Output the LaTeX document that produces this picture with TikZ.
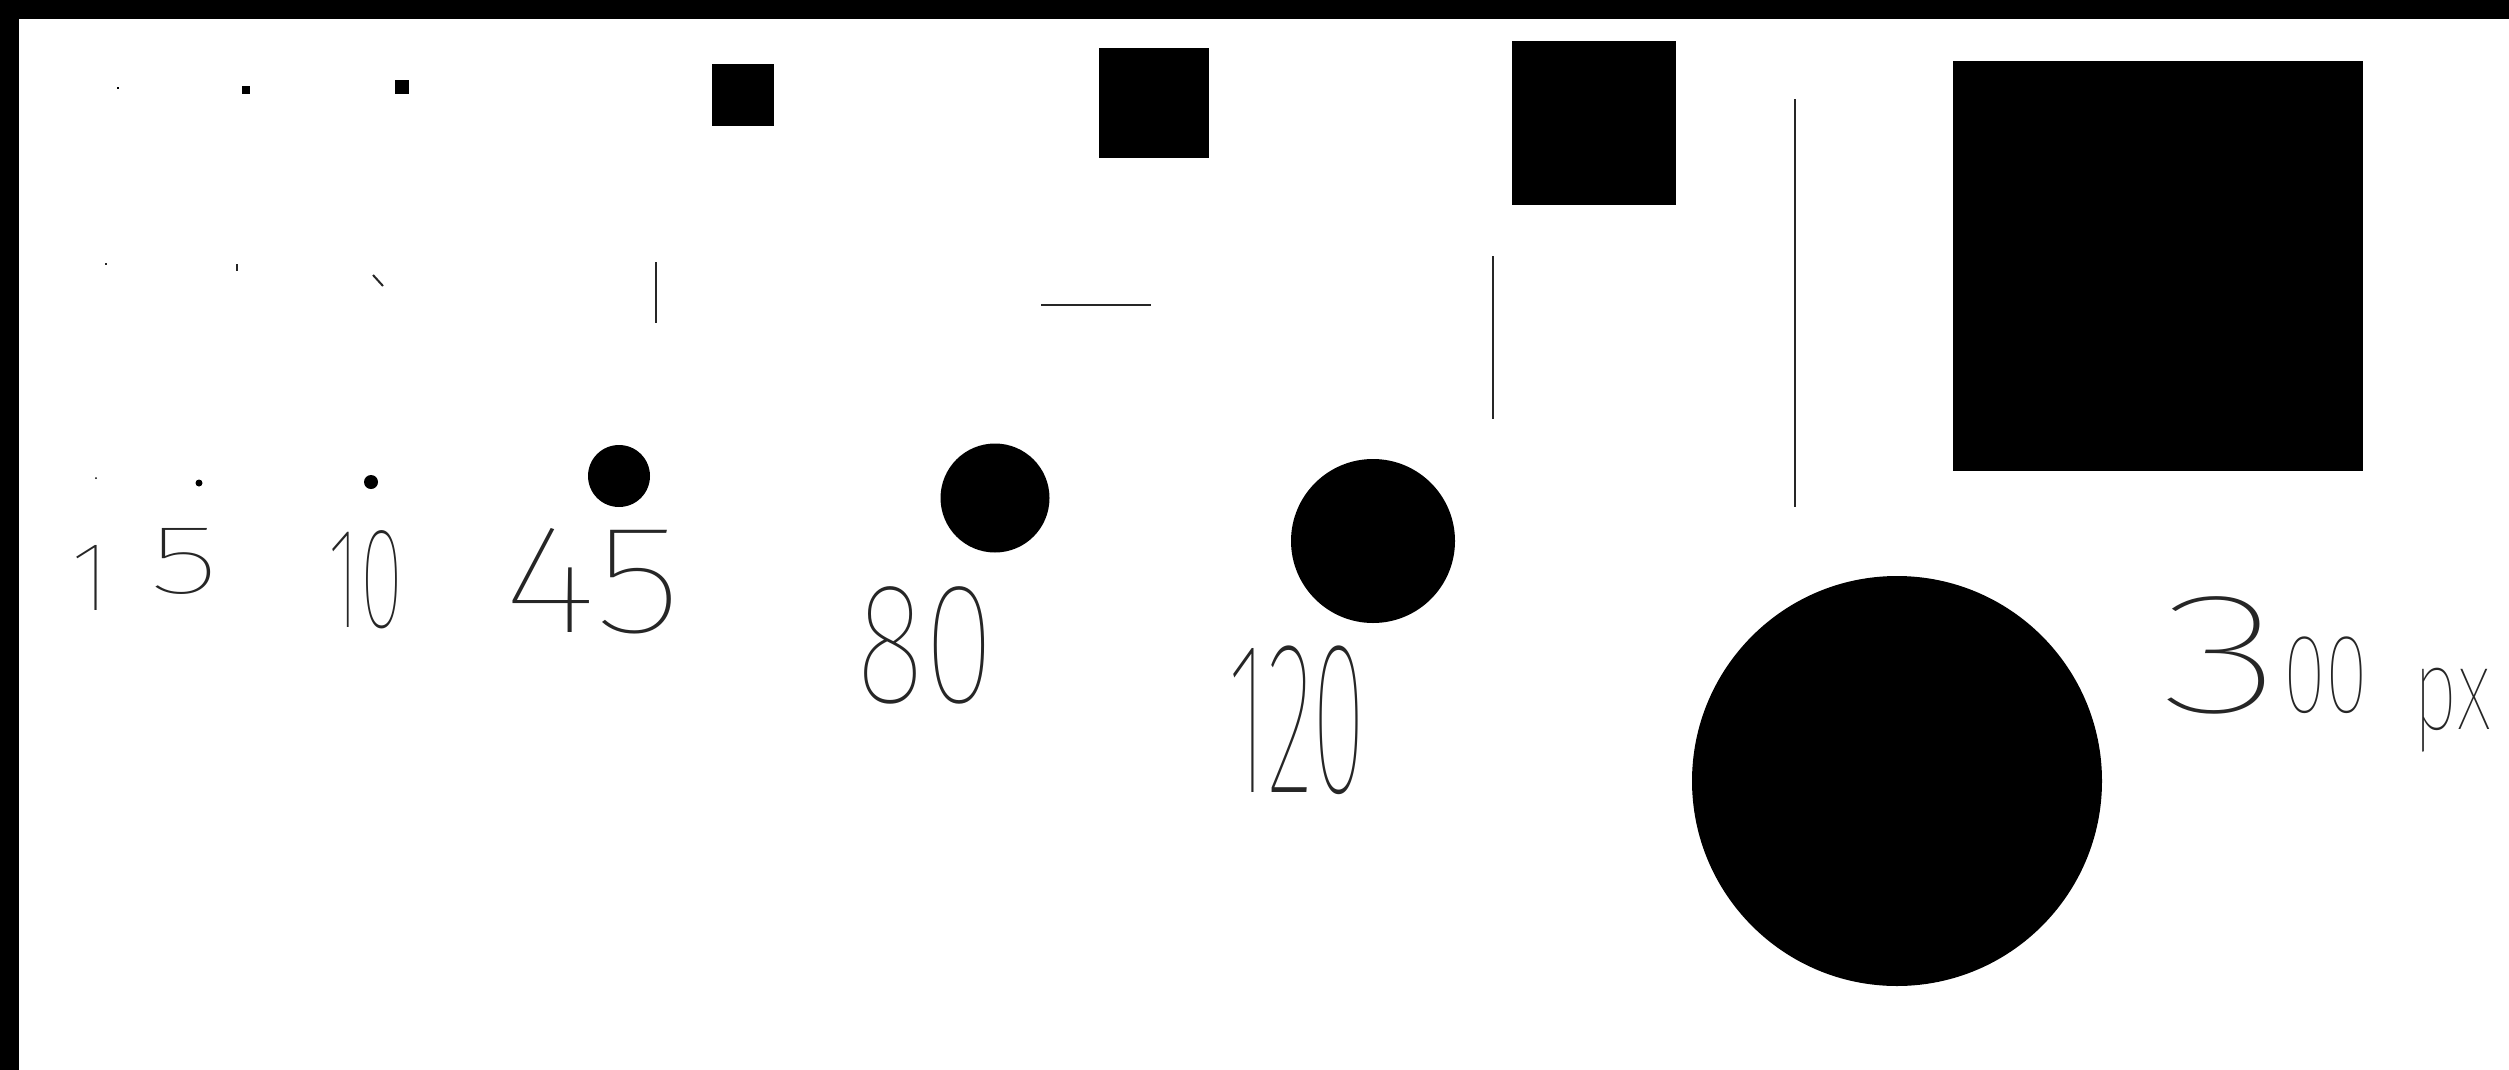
\documentclass[tikz,border=0pt]{standalone}
\usepackage{fontspec}
\usepackage{graphicx}
\newfontfamily\handfont{Fira Sans Thin}
\newcommand\handsize[1]{\fontsize{#1}{#1}\selectfont}
\usetikzlibrary{positioning}

\begin{document}
\begin{tikzpicture}[
    x=0.1mm, y=-0.1mm,
    ink/.style={fill=black},
    stroke/.style={draw=black!85, line width=0.2mm},
    handnum/.style={inner sep=0, text=black!85, font=\handfont}
]
\useasboundingbox (0,0) rectangle (2509,1070);
\fill[white] (0,0) rectangle (2509,1070);

% Frame
\fill[black] (0,0) rectangle (2509,19);
\fill[black] (0,0) rectangle (19,1070);

% Squares
\foreach \cx/\cy/\s in {118/88/2, 246/90/8, 402/87/14, 743/95/62, 1154/103/110, 1594/123/164, 2158/266/410}
    \fill[ink] (\cx-\s/2, \cy-\s/2) rectangle ++(\s,\s);

% Lines
\draw[stroke] (106,263) -- (106,265);
\draw[stroke] (237,264) -- (237,271);
\draw[stroke] (373,275) -- (383,286);
\draw[stroke] (656,262) -- (656,323);
\draw[stroke] (1041,305) -- (1151,305);
\draw[stroke] (1493,256) -- (1493,419);
\draw[stroke] (1795,99) -- (1795,507);

% Circles
\foreach \cx/\cy/\d in {96/478/2, 199/483/7, 371/482/14, 619/476/62, 995/498/109, 1373/541/164, 1897/781/410}
    \fill[ink] (\cx,\cy) circle[radius=\d/2];

% Sizes
\node[handnum, anchor=base] (n1) at (91,610) {\handsize{28}1};
\node[handnum, anchor=base] (n5) at (184,593) {\handsize{28}\scalebox{1.5}[1]{5}};
\node[handnum, anchor=base] (n10) at (366,627) {\handsize{41}\scalebox{0.55}[1]{10}};
\node[handnum, anchor=base] (n45) at (593,632) {\handsize{44}\scalebox{1.2}[1]{45}};
\node[handnum, anchor=base] (n80) at (925,702) {\handsize{49}\scalebox{0.75}[1]{80}};
\node[handnum, anchor=base] (n120) at (1297,792) {\handsize{62}\scalebox{0.45}[1]{120}};
\node[handnum, anchor=base west] (n300) at (2160,712) {\handsize{49}\scalebox{1.5}[1]{3}\handsize{32}\scalebox{0.7}[1]{00}};
\node[handnum] (npx) at (2452,710) {\handsize{33}\scalebox{0.67}[1]{px}};

\end{tikzpicture}
\end{document}
